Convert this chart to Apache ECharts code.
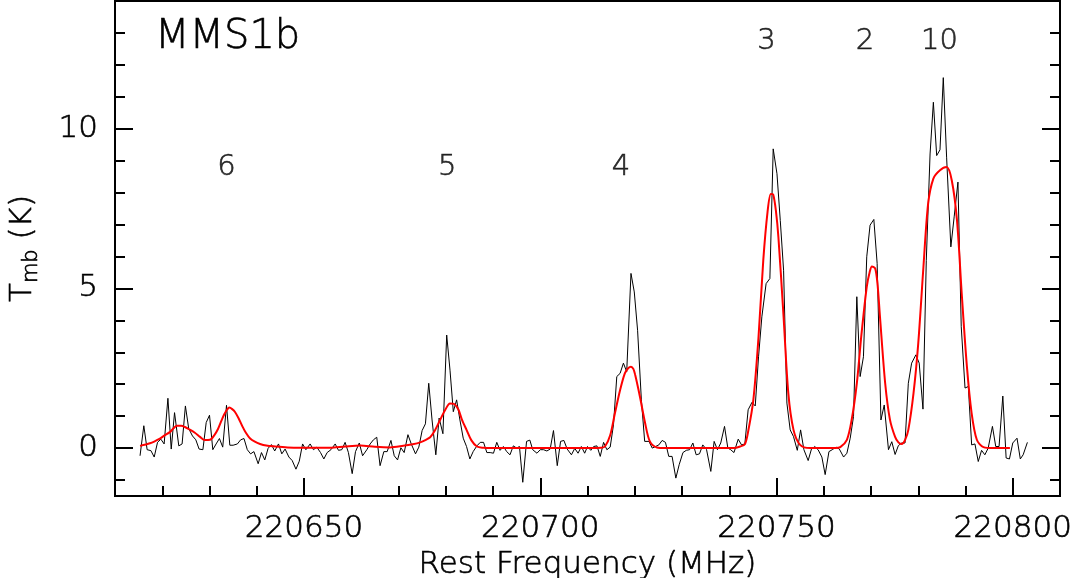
<!DOCTYPE html>
<html><head><meta charset="utf-8">
<script src="https://cdn.jsdelivr.net/npm/echarts@6/dist/echarts.min.js"></script>
<style>html,body{margin:0;padding:0;background:#fff}#c{width:1071px;height:578px}</style>
</head><body><div id="c"></div>
<script>
// Observed spectrum (black line): frequency (MHz) and Tmb (K)
const specFreq = [
220615.3,220616.1,220616.8,220617.6,220618.3,220619.0,220619.7,220620.4,220621.2,220621.9,
220622.6,220623.5,220624.2,220624.9,220625.6,220626.4,220627.1,220627.8,220628.6,220629.3,
220630.0,220630.7,220631.4,220632.1,220632.8,220633.6,220634.3,220635.0,220635.9,220636.6,
220637.3,220638.0,220638.7,220639.4,220640.3,220641.0,220641.7,220642.4,220643.1,220643.8,
220644.6,220645.3,220646.0,220646.8,220647.5,220648.3,220649.0,220649.7,220650.4,220651.3,
220652.0,220652.7,220653.5,220654.2,220654.9,220655.7,220656.6,220657.3,220658.0,220658.7,
220659.4,220660.2,220660.9,220661.7,220662.4,220663.3,220664.0,220664.7,220665.4,220666.1,
220666.9,220667.6,220668.4,220669.1,220669.8,220670.5,220671.2,220672.0,220672.7,220673.6,
220674.3,220675.0,220675.7,220676.4,220677.1,220677.9,220678.6,220679.4,220680.2,220680.9,
220681.6,220682.3,220683.0,220683.7,220684.4,220685.1,220685.8,220686.6,220687.3,220688.0,
220688.7,220689.4,220690.1,220690.8,220691.5,220692.2,220692.9,220693.6,220694.3,220695.0,
220695.6,220696.3,220697.1,220697.8,220698.4,220699.3,220700.0,220700.7,220701.4,220702.1,
220702.8,220703.6,220704.3,220705.0,220705.7,220706.6,220707.3,220708.0,220708.7,220709.4,
220710.0,220710.7,220711.3,220712.0,220712.7,220713.4,220714.1,220714.8,220715.5,220716.2,
220716.9,220717.6,220718.3,220719.2,220719.9,220720.6,220721.4,220722.1,220723.0,220723.7,
220724.4,220725.1,220725.8,220726.5,220727.2,220727.9,220728.7,220729.4,220730.2,220730.9,
220731.6,220732.3,220733.0,220733.7,220734.4,220735.2,220736.1,220736.8,220737.5,220738.2,
220739.0,220739.7,220740.3,220741.0,220741.9,220742.6,220743.3,220744.0,220744.8,220745.5,
220746.2,220746.9,220747.8,220748.6,220749.3,220750.1,220750.8,220751.5,220752.2,220752.9,
220753.6,220754.4,220755.1,220755.8,220756.7,220757.4,220758.1,220758.8,220759.6,220760.3,
220761.1,220761.8,220762.6,220763.3,220764.2,220764.9,220765.6,220766.3,220767.0,220767.7,
220768.4,220769.1,220769.8,220770.6,220771.3,220772.1,220772.8,220773.7,220774.4,220775.1,
220775.8,220776.5,220777.2,220777.9,220778.6,220779.5,220780.2,220781.0,220781.7,220782.5,
220783.2,220783.9,220784.6,220785.3,220786.0,220786.9,220787.6,220788.4,220789.1,220789.9,
220790.6,220791.3,220792.0,220792.7,220793.4,220794.1,220794.8,220795.7,220796.4,220797.1,
220797.9,220798.6,220799.3,220800.0,220800.9,220801.6,220802.2,220803.1
];
const specTmb = [
-0.24,0.70,-0.05,-0.08,-0.28,0.18,0.28,0.13,1.56,-0.03,
1.11,0.07,0.13,1.32,0.61,0.38,0.26,-0.03,-0.05,0.80,
1.03,-0.05,0.13,0.30,0.03,1.34,0.09,0.09,0.13,0.26,
0.30,-0.05,-0.18,-0.11,-0.49,-0.14,-0.37,-0.01,0.11,-0.09,
0.13,-0.18,-0.03,-0.28,-0.39,-0.66,-0.41,0.13,-0.05,0.13,
-0.05,0.03,-0.14,-0.34,-0.14,-0.05,0.13,-0.07,-0.05,0.18,
-0.14,-0.80,-0.11,0.16,-0.24,-0.05,0.13,0.26,0.34,-0.55,
-0.11,-0.11,0.24,-0.24,-0.37,0.01,-0.14,0.42,0.13,-0.18,
0.03,0.55,0.76,2.03,0.88,-0.21,0.94,0.45,3.54,2.44,
1.14,1.51,0.88,0.31,0.05,-0.34,-0.11,0.07,0.18,0.18,
-0.14,-0.14,-0.16,0.18,-0.07,0.05,-0.11,-0.21,0.07,0.00,
0.05,-1.07,0.21,0.25,-0.05,-0.16,-0.05,-0.05,-0.09,-0.03,
0.55,-0.55,0.21,0.24,-0.03,-0.21,-0.01,-0.16,0.05,-0.16,
0.05,-0.07,0.05,0.07,-0.26,0.18,-0.05,0.03,0.73,2.24,
2.34,2.66,2.39,5.47,4.89,3.69,1.51,0.21,0.21,0.00,
0.05,0.10,0.24,0.18,-0.26,-0.26,-0.94,-0.52,-0.14,-0.07,
-0.05,0.16,-0.21,-0.18,0.10,-0.05,-0.73,0.21,-0.05,0.16,
0.68,0.00,-0.05,-0.14,0.28,0.10,0.13,1.20,1.43,1.32,
2.86,4.11,5.15,5.31,9.37,8.59,7.13,5.57,1.41,0.57,
0.36,-0.07,0.57,-0.05,-0.39,-0.03,0.05,-0.05,-0.28,-0.83,
-0.11,-0.05,0.03,-0.03,-0.28,-0.16,0.31,0.99,4.74,2.24,
2.86,5.99,6.98,7.16,5.78,0.88,1.35,-0.05,0.20,-0.20,
0.08,0.16,0.16,2.03,2.66,2.92,2.66,1.22,5.88,9.21,
10.83,9.16,9.34,11.60,9.11,6.30,7.24,8.33,3.80,1.88,
1.93,0.10,0.13,-0.42,-0.07,-0.21,0.00,0.68,0.05,0.05,
1.63,-0.31,-0.34,0.16,0.31,-0.34,-0.21,0.18
];
// Fitted model (red curve)
const fitFreq = [
220615.3,220617.4,220619.5,220620.5,220621.6,220622.4,220623.1,220624.0,220624.8,220625.8,
220626.9,220628.0,220629.0,220630.1,220631.0,220631.8,220632.5,220633.1,220633.7,220634.2,
220634.8,220635.4,220636.2,220636.9,220637.7,220638.6,220639.6,220640.7,220642.0,220643.9,
220646.5,220649.2,220652.5,220655.5,220658.7,220661.9,220665.0,220668.2,220671.0,220673.0,
220674.6,220675.8,220676.7,220677.7,220678.8,220679.9,220680.9,220681.8,220682.7,220683.4,
220684.4,220685.4,220686.6,220688.0,220689.4,220700.0,220711.0,220712.8,220713.7,220714.8,
220715.8,220716.9,220717.9,220718.6,220719.2,220719.7,220720.1,220721.1,220722.2,220723.2,
220724.7,220726.4,220735.0,220741.0,220742.3,220743.3,220744.0,220745.1,220746.2,220747.2,
220748.1,220748.8,220749.3,220749.9,220750.4,220751.5,220752.5,220753.6,220755.0,220757.1,
220760.0,220762.5,220763.5,220764.9,220765.9,220767.0,220768.0,220769.1,220769.7,220770.2,
220770.9,220771.4,220771.9,220773.0,220774.0,220775.1,220775.8,220776.5,220777.2,220777.9,
220779.0,220780.0,220781.1,220782.1,220783.2,220784.6,220786.0,220787.1,220788.2,220789.2,
220790.3,220791.3,220792.4,220793.8,220796.0,220799.4
];
const fitTmb = [
0.07,0.15,0.30,0.40,0.50,0.62,0.70,0.70,0.66,0.58,
0.48,0.35,0.25,0.26,0.40,0.60,0.85,1.05,1.20,1.27,
1.22,1.13,0.92,0.70,0.48,0.30,0.20,0.13,0.08,0.05,
0.02,0.01,0.01,0.01,0.05,0.08,0.04,0.02,0.07,0.12,
0.18,0.26,0.34,0.55,0.88,1.20,1.40,1.38,1.20,0.90,
0.57,0.25,0.05,0.01,0.00,0.00,0.00,0.01,0.05,0.40,
1.09,1.82,2.34,2.50,2.55,2.48,2.29,1.61,0.78,0.21,
0.02,0.00,0.00,0.00,0.05,0.12,0.52,1.51,3.49,5.88,
7.39,7.96,7.94,7.40,6.61,4.11,1.72,0.57,0.10,0.00,
0.00,0.00,0.03,0.26,0.88,2.03,3.59,5.05,5.50,5.69,
5.62,5.10,4.11,2.03,0.90,0.35,0.18,0.13,0.25,0.57,
1.72,3.28,5.68,7.66,8.44,8.70,8.80,8.38,7.13,4.84,
2.55,1.09,0.26,0.03,0.00,0.00
];
// Line identifications (K components)
const lineFreq = [220633.6, 220680.3, 220717.1, 220747.9, 220768.7, 220784.5];
const lineTmb  = [8.78, 8.78, 8.78, 12.73, 12.73, 12.73];
const lineText = ['6', '5', '4', '3', '2', '10'];
const sourceName = 'MMS1b';
// Axis ticks
const xMajor = [220650, 220700, 220750, 220800];
const xMinor = [220620,220630,220640,220660,220670,220680,220690,220710,220720,220730,220740,220760,220770,220780,220790];
const yMajor = [0, 5, 10];
const yMinor = [-1,1,2,3,4,6,7,8,9,11,12,13];
const xRange = [220610, 220810];
const yRange = [-1.5, 14];

const FONT = "'DejaVu Sans', 'Liberation Sans', sans-serif";
const FW = 200;
const TB = {textBorderColor: '#000', textBorderWidth: 0.6};
const tickStyle = {color: '#000', width: 2};

function xAx(ticks, len, withLabels) {
  const a = {
    type: 'value', min: xRange[0], max: xRange[1], position: 'bottom',
    axisLine: {show: false, onZero: false}, splitLine: {show: false},
    axisTick: {show: true, inside: true, length: len, lineStyle: tickStyle, customValues: ticks},
    axisLabel: Object.assign({show: withLabels, customValues: ticks, formatter: v => String(v), fontSize: 31, color: '#000', fontFamily: FONT, fontWeight: FW, margin: 17}, TB)
  };
  if (withLabels) {
    a.name = 'Rest Frequency (MHz)';
    a.nameLocation = 'middle';
    a.nameGap = 44;
    a.nameTextStyle = Object.assign({fontSize: 31, color: '#000', fontFamily: FONT, fontWeight: FW}, TB);
  }
  return a;
}
function yAx(ticks, len, pos, withLabels) {
  const a = {
    type: 'value', min: yRange[0], max: yRange[1], position: pos,
    axisLine: {show: false, onZero: false}, splitLine: {show: false},
    axisTick: {show: true, inside: true, length: len, lineStyle: tickStyle, customValues: ticks},
    axisLabel: Object.assign({show: withLabels, customValues: ticks, formatter: v => String(v), fontSize: 31, color: '#000', fontFamily: FONT, fontWeight: FW, margin: 17}, TB)
  };
  if (withLabels) {
    a.name = '{t|T}{s|mb}{t| (K)}';
    a.nameLocation = 'middle';
    a.nameGap = 74;
    a.nameRotate = 90;
    a.nameTextStyle = {
      color: '#000', fontFamily: FONT, fontWeight: FW,
      rich: {
        t: Object.assign({fontSize: 31, fontFamily: FONT, fontWeight: FW, color: '#000', lineHeight: 34, verticalAlign: 'top'}, TB),
        s: Object.assign({fontSize: 21, fontFamily: FONT, fontWeight: FW, color: '#000', lineHeight: 24, padding: [14, 0, 0, 0], verticalAlign: 'top'}, TB)
      }
    };
  }
  return a;
}

const chart = echarts.init(document.getElementById('c'), null, {renderer: 'canvas'});
chart.setOption({
  animation: false,
  backgroundColor: '#fff',
  title: {
    text: sourceName, left: 155, top: 18, padding: 0,
    textStyle: Object.assign({fontSize: 40, fontWeight: FW, fontFamily: FONT, color: '#000'}, TB)
  },
  grid: {left: 115, right: 11, top: 1, bottom: 82, containLabel: false, outerBoundsMode: 'none',
         show: true, borderColor: '#000', borderWidth: 2, backgroundColor: 'transparent'},
  xAxis: [xAx(xMajor, 18, true), xAx(xMinor, 10, false)],
  yAxis: [yAx(yMajor, 18, 'left', true), yAx(yMinor, 10, 'left', false), yAx(yMajor, 18, 'right', false), yAx(yMinor, 10, 'right', false)],
  series: [
    {
      type: 'line', xAxisIndex: 0, yAxisIndex: 0, showSymbol: false, symbol: 'none',
      data: specFreq.map((f, i) => [f, specTmb[i]]),
      lineStyle: {color: '#000', width: 1}, z: 2
    },
    {
      type: 'line', xAxisIndex: 0, yAxisIndex: 0, showSymbol: false, symbol: 'none',
      smooth: 0.3,
      data: fitFreq.map((f, i) => [f, fitTmb[i]]),
      lineStyle: {color: '#ff0000', width: 2}, z: 3
    },
    {
      type: 'scatter', xAxisIndex: 0, yAxisIndex: 0, symbolSize: 2,
      itemStyle: {color: 'rgba(0,0,0,0)'},
      emphasis: {disabled: true},
      labelLayout: {hideOverlap: false},
      data: lineFreq.map((f, i) => ({value: [f, lineTmb[i]], name: lineText[i]})),
      label: Object.assign({show: true, position: 'inside', formatter: '{b}', fontSize: 29, color: '#000', fontFamily: FONT, fontWeight: FW}, TB),
      z: 4
    }
  ]
});
</script>
</body></html>
